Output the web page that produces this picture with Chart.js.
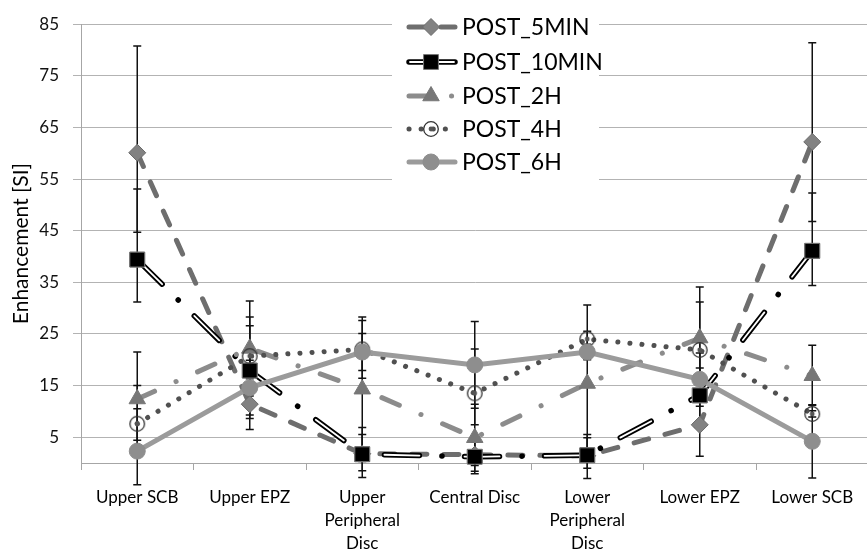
<!DOCTYPE html>
<html>
<head>
<meta charset="utf-8">
<script src="https://cdn.jsdelivr.net/npm/chart.js@4.4.1/dist/chart.umd.min.js"></script>
<style>
html, body { margin: 0; padding: 0; background: #fff; overflow: hidden; }
#wrap { width: 880px; height: 552px; }
</style>
</head>
<body>
<div id="wrap"><canvas id="c" width="880" height="552"></canvas></div>
<script>
const categories = ['Upper SCB', 'Upper EPZ', ['Upper', 'Peripheral', 'Disc'], 'Central Disc',
    ['Lower', 'Peripheral', 'Disc'], 'Lower EPZ', 'Lower SCB'];
const yTicks = [5, 15, 25, 35, 45, 55, 65, 75, 85];

const post5min = [60.1, 11.4, 1.8, 1.6, 1.4, 7.4, 62.2];
const post10min = [39.4, 17.9, 1.7, 1.2, 1.5, 13.1, 41.1];
const post2h = [12.4, 22.2, 14.3, 4.9, 15.4, 24.2, 16.9];
const post4h = [7.6, 20.7, 22.0, 13.5, 24.0, 21.9, 9.5];
const post6h = [2.3, 14.6, 21.5, 19.0, 21.5, 16.2, 4.2];

// error bar ends, [low, high]
const err5min = [[44.7, 80.8], [6.5, 16.3], [-1.5, 5.5], [-0.5, 4.0], [-1.0, 4.9], [1.3, 13.5], [46.8, 81.4]];
const err10min = [[31.2, 53.1], [8.6, 28.3], [-2.8, 6.9], [-2.1, 4.5], [-3.0, 5.5], [7.8, 18.4], [34.4, 52.3]];
const err2h = [[3.3, 21.5], [13.0, 31.4], [0.3, 28.3], [-1.6, 11.4], [0.2, 30.6], [14.3, 34.1], [11.2, 22.8]];
const err4h = [[4.4, 10.5], [15.0, 26.6], [16.4, 27.6], [7.4, 22.1], [22.5, 25.5], [12.6, 31.2], [8.9, 10.1]];
const err6h = [[-4.2, 15.0], [9.3, 19.9], [17.9, 25.1], [10.6, 27.4], [20.0, 23.0], [11.0, 21.3], [-2.9, 11.3]];

const FONT = 'Lato';

// open circle with a dot, for POST_4H
function circleDot() {
    const c = document.createElement('canvas');
    c.width = 18; c.height = 18;
    const g = c.getContext('2d');
    g.strokeStyle = '#333';
    g.lineWidth = 1.3;
    g.beginPath(); g.arc(9, 9, 7.3, 0, Math.PI * 2); g.stroke();
    g.fillStyle = '#555';
    g.beginPath(); g.arc(9, 9, 2.4, 0, Math.PI * 2); g.fill();
    return c;
}
const dotCircle = circleDot();

function drawMarker(ctx, ds, x, y) {
    const r = ds.pointRadius;
    ctx.save();
    ctx.fillStyle = ds.pointBackgroundColor;
    ctx.strokeStyle = ds.pointBorderColor;
    ctx.lineWidth = 1;
    ctx.setLineDash([]);
    ctx.beginPath();
    if (ds.pointStyle === 'rectRot') {
        ctx.moveTo(x, y - r); ctx.lineTo(x + r, y); ctx.lineTo(x, y + r); ctx.lineTo(x - r, y); ctx.closePath();
    } else if (ds.pointStyle === 'rect') {
        const s = r * Math.SQRT1_2;
        ctx.rect(x - s, y - s, 2 * s, 2 * s);
    } else if (ds.pointStyle === 'triangle') {
        ctx.moveTo(x, y - r); ctx.lineTo(x + r * 0.866, y + r / 2); ctx.lineTo(x - r * 0.866, y + r / 2); ctx.closePath();
    } else if (ds.pointStyle === 'circle') {
        ctx.arc(x, y, r, 0, Math.PI * 2);
    } else {
        ctx.drawImage(ds.pointStyle, x - 9, y - 9);
        ctx.restore();
        return;
    }
    ctx.fill(); ctx.stroke();
    ctx.restore();
}

const errorBars = {
    id: 'errorBars',
    beforeDatasetsDraw(chart) {
        const ctx = chart.ctx;
        const y = chart.scales.y;
        ctx.save();
        ctx.strokeStyle = '#111';
        ctx.lineWidth = 1.5;
        chart.data.datasets.forEach((ds, i) => {
            const meta = chart.getDatasetMeta(i);
            ds.errors.forEach((e, j) => {
                const x = meta.data[j].x;
                const y0 = y.getPixelForValue(e[0]);
                const y1 = y.getPixelForValue(e[1]);
                ctx.beginPath();
                ctx.moveTo(x, y0); ctx.lineTo(x, y1);
                ctx.moveTo(x - 4, y0); ctx.lineTo(x + 4, y0);
                ctx.moveTo(x - 4, y1); ctx.lineTo(x + 4, y1);
                ctx.stroke();
            });
        });
        ctx.restore();
    }
};

// white core for the double black line of POST_10MIN
const doubleLine = {
    id: 'doubleLine',
    afterDatasetDraw(chart, args) {
        const ds = chart.data.datasets[args.index];
        if (!ds.doubleLine) return;
        const ctx = chart.ctx;
        const pts = args.meta.data;
        ctx.save();
        ctx.strokeStyle = '#fff';
        ctx.lineWidth = 1.8;
        ctx.lineCap = 'round';
        ctx.setLineDash(ds.innerDash);
        ctx.beginPath();
        pts.forEach((p, k) => k ? ctx.lineTo(p.x, p.y) : ctx.moveTo(p.x, p.y));
        ctx.stroke();
        ctx.restore();
        pts.forEach(p => p.draw(ctx, chart.chartArea));
    }
};

const legendBox = {
    id: 'legendBox',
    afterDraw(chart) {
        const ctx = chart.ctx;
        ctx.save();
        ctx.fillStyle = '#fff';
        ctx.fillRect(392, 8, 207, 172);
        const rows = [27, 62, 96, 129, 162];
        chart.data.datasets.forEach((ds, i) => {
            const yy = rows[i];
            ctx.save();
            ctx.lineCap = 'round';
            ctx.strokeStyle = ds.borderColor;
            ctx.lineWidth = ds.borderWidth;
            ctx.setLineDash(ds.doubleLine ? [] : (ds.borderDash || []));
            ctx.beginPath(); ctx.moveTo(409, yy); ctx.lineTo(455, yy); ctx.stroke();
            if (ds.doubleLine) {
                ctx.strokeStyle = '#fff';
                ctx.lineWidth = 1.8;
                ctx.beginPath(); ctx.moveTo(410, yy); ctx.lineTo(454, yy); ctx.stroke();
            }
            ctx.restore();
            drawMarker(ctx, ds, 431, yy);
            ctx.fillStyle = '#000';
            ctx.font = '23px ' + FONT;
            ctx.textBaseline = 'middle';
            ctx.fillText(ds.label, 462, yy + 1);
        });
        ctx.restore();
    }
};

new Chart(document.getElementById('c'), {
    type: 'line',
    data: {
        labels: categories,
        datasets: [
            {
                label: 'POST_5MIN', data: post5min, errors: err5min, order: 5,
                borderColor: '#6e6e6e', borderWidth: 5, borderDash: [15, 17], borderCapStyle: 'round',
                pointStyle: 'rectRot', pointRadius: 8.5, pointBorderWidth: 1,
                pointBackgroundColor: '#828282', pointBorderColor: '#6a6a6a'
            },
            {
                label: 'POST_10MIN', data: post10min, errors: err10min, order: 4,
                borderColor: '#000', borderWidth: 5.5, borderDash: [35, 22.5, 0.1, 22.5], borderCapStyle: 'round',
                doubleLine: true, innerDash: [35, 45.1],
                pointStyle: 'rect', pointRadius: 10.5, pointBorderWidth: 1,
                pointBackgroundColor: '#000', pointBorderColor: '#777'
            },
            {
                label: 'POST_2H', data: post2h, errors: err2h, order: 3,
                borderColor: '#8c8c8c', borderWidth: 5, borderDash: [19, 23.5, 0.1, 23.5], borderCapStyle: 'round',
                pointStyle: 'triangle', pointRadius: 9.5, pointBorderWidth: 1,
                pointBackgroundColor: '#777', pointBorderColor: '#777'
            },
            {
                label: 'POST_4H', data: post4h, errors: err4h, order: 2,
                borderColor: '#505050', borderWidth: 5, borderDash: [0.1, 12], borderCapStyle: 'round',
                pointStyle: dotCircle, pointRadius: 9, pointBorderWidth: 1,
                pointBackgroundColor: 'rgba(0,0,0,0)', pointBorderColor: '#333'
            },
            {
                label: 'POST_6H', data: post6h, errors: err6h, order: 1,
                borderColor: '#9b9b9b', borderWidth: 5, borderCapStyle: 'round',
                pointStyle: 'circle', pointRadius: 8, pointBorderWidth: 1,
                pointBackgroundColor: '#8e8e8e', pointBorderColor: '#8e8e8e'
            }
        ]
    },
    options: {
        responsive: false,
        animation: false,
        devicePixelRatio: 1,
        layout: { padding: { top: 15, right: 5, left: 0, bottom: 0 } },
        elements: { line: { tension: 0 } },
        plugins: { legend: { display: false }, tooltip: { enabled: false } },
        scales: {
            x: {
                offset: true,
                grid: { display: true, drawOnChartArea: false, drawTicks: true, tickLength: 7, color: '#a6a6a6', offset: true },
                border: { color: '#a6a6a6' },
                ticks: { color: '#000', font: { family: FONT, size: 17, lineHeight: 1.35 }, padding: 16, maxRotation: 0, autoSkip: false },
                afterFit: s => { s.height = 89; }
            },
            y: {
                min: 0, max: 85,
                afterBuildTicks: s => { s.ticks = yTicks.map(v => ({ value: v })); },
                grid: { color: '#b3b3b3', tickLength: 8 },
                border: { color: '#a6a6a6' },
                ticks: { color: '#111', font: { family: FONT, size: 17 }, padding: 14 },
                title: { display: true, text: 'Enhancement [SI]', color: '#000', font: { family: FONT, size: 21 }, padding: { top: 9 } },
                afterFit: s => { s.width = 81; }
            }
        }
    },
    plugins: [errorBars, doubleLine, legendBox]
});
</script>
</body>
</html>
